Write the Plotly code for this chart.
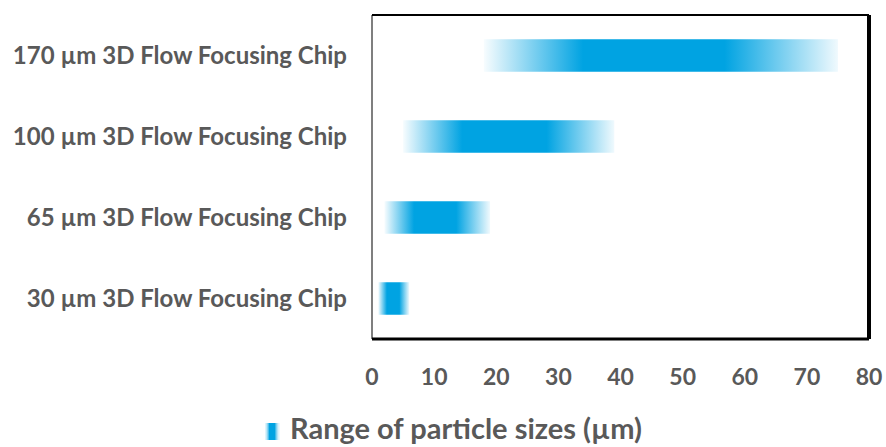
import plotly.graph_objects as go

# Chip types (bottom to top) and the particle size range each one produces (µm)
chips = [
    "30 µm 3D Flow Focusing Chip",
    "65 µm 3D Flow Focusing Chip",
    "100 µm 3D Flow Focusing Chip",
    "170 µm 3D Flow Focusing Chip",
]
size_min = [1, 2, 5, 18]
size_max = [6, 19, 39, 75]
x_ticks = [0, 10, 20, 30, 40, 50, 60, 70, 80]

series_name = "Range of particle sizes (µm)"
blue = "0,163,226"
half_h = 0.2

# horizontal gradient: faded ends, solid core
grad = [
    [0.0, f"rgba({blue},0.03)"],
    [0.28, f"rgba({blue},1)"],
    [0.68, f"rgba({blue},1)"],
    [1.0, f"rgba({blue},0.06)"],
]

fig = go.Figure()
for i, (lo, hi) in enumerate(zip(size_min, size_max)):
    fig.add_trace(go.Scatter(
        x=[lo, hi, hi, lo, lo],
        y=[i - half_h, i - half_h, i + half_h, i + half_h, i - half_h],
        mode="none",
        fill="toself",
        fillgradient=dict(type="horizontal", colorscale=grad),
        name=series_name,
        showlegend=False,
        hoverinfo="skip",
    ))

txt = "#595959"
font = "Lato"

W, H = 886, 447
ml, mr, mt, mb = 372, 17, 15, 108
pw, ph = W - ml - mr, H - mt - mb


def px_x(p):
    return (p - ml) / pw


def px_y(p):
    return (H - mb - p) / ph


fig.update_layout(
    width=W, height=H,
    margin=dict(l=ml, r=mr, t=mt, b=mb, autoexpand=False),
    paper_bgcolor="white", plot_bgcolor="white",
    font=dict(family=font, color=txt, size=18),
    showlegend=False,
    xaxis=dict(
        range=[0, 80], tickvals=x_ticks, showgrid=False, zeroline=False,
        showline=False, ticks="",
        tickfont=dict(family=font, size=23, color=txt, weight="bold"),
        ticklabelstandoff=22,
    ),
    yaxis=dict(
        range=[-0.5, 3.5], tickvals=list(range(len(chips))), ticktext=chips,
        showgrid=False, zeroline=False, showline=False, ticks="",
        tickfont=dict(family=font, size=24, color=txt, weight="bold"),
        ticklabelstandoff=24,
    ),
)

# plot-area frame: grey left edge, black top, heavier black right/bottom
frame = [
    dict(x0=0, x1=0, y0=0, y1=1, line=dict(color="#7f7f7f", width=2)),
    dict(x0=0, x1=1, y0=1, y1=1, line=dict(color="black", width=2)),
    dict(x0=1, x1=1, y0=0, y1=1, line=dict(color="black", width=4)),
    dict(x0=0, x1=1, y0=0, y1=0, line=dict(color="black", width=3)),
]
for s in frame:
    fig.add_shape(type="line", xref="paper", yref="paper", **s)

# legend: small gradient swatch plus the series name
swatch_alpha = [0.12, 0.25, 0.45, 0.7, 1, 1, 1, 1, 1, 1, 0.75, 0.5, 0.3, 0.15, 0.08]
sx0, sy0, sy1 = 265, 423, 440
for k, a in enumerate(swatch_alpha):
    fig.add_shape(
        type="rect", xref="paper", yref="paper",
        x0=px_x(sx0 + k), x1=px_x(sx0 + k + 1), y0=px_y(sy1), y1=px_y(sy0),
        line=dict(width=0), fillcolor=f"rgba({blue},{a})", layer="above",
    )
fig.add_annotation(
    xref="paper", yref="paper", x=px_x(288), y=px_y(447),
    xanchor="left", yanchor="bottom", showarrow=False,
    text=series_name,
    font=dict(family=font, size=29, color=txt, weight="bold"),
)

fig.write_html("out.html")
